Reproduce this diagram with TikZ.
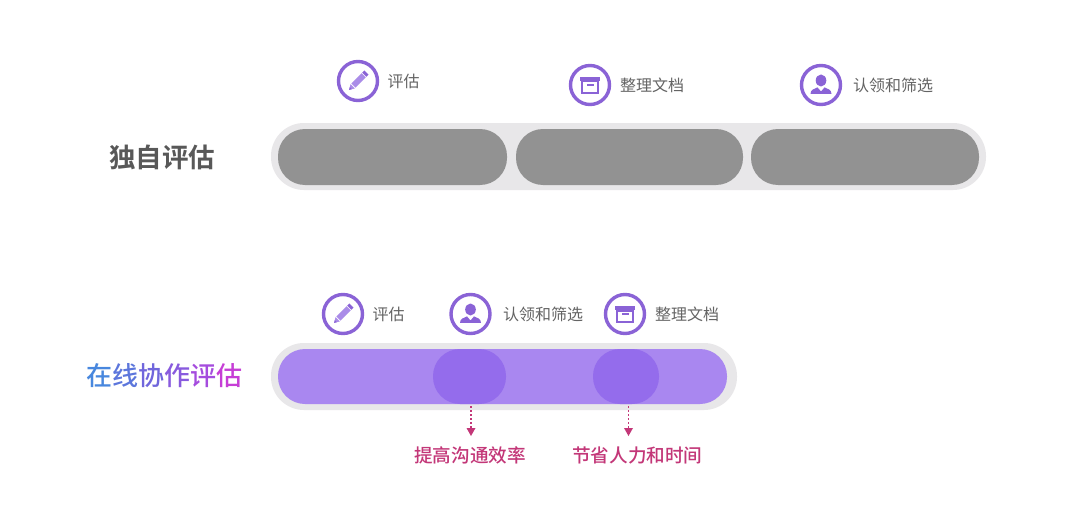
\documentclass[tikz,border=0pt]{standalone}
\usepackage{fontspec}
\setmainfont{Noto Sans CJK SC}
\newfontfamily\cjkbold{Noto Sans CJK SC Bold}
\newfontfamily\cjkmed{Noto Sans CJK SC Medium}
\definecolor{ringc}{RGB}{138,99,214}
\definecolor{iconlight}{RGB}{170,140,232}
\definecolor{trackc}{RGB}{232,231,233}
\definecolor{grayp}{RGB}{146,146,146}
\definecolor{purp}{RGB}{169,135,240}
\definecolor{purd}{RGB}{148,108,236}
\definecolor{labelc}{RGB}{100,100,100}
\definecolor{titlec}{RGB}{88,88,88}
\definecolor{redc}{RGB}{195,55,120}
\definecolor{gA}{RGB}{72,135,222}
\definecolor{gB}{RGB}{92,118,220}
\definecolor{gC}{RGB}{112,102,220}
\definecolor{gD}{RGB}{136,90,222}
\definecolor{gE}{RGB}{165,76,222}
\definecolor{gF}{RGB}{198,62,214}
\tikzset{
  x=1pt,y=-1pt,
  ring/.style={circle,draw=ringc,line width=3.4pt,fill=white,minimum size=39pt,inner sep=0pt},
  lbl/.style={font=\fontsize{16}{18}\selectfont,text=labelc,inner sep=0pt},
  ttl/.style={font=\cjkbold\fontsize{26.5}{30}\selectfont,text=titlec,inner sep=0pt},
  ttlg/.style={font=\cjkmed\fontsize{26}{30}\selectfont,inner sep=0pt},
  benefit/.style={font=\cjkmed\fontsize{18.6}{22}\selectfont,text=redc,inner sep=0pt},
  track/.style={draw=none,fill=trackc,rounded corners=33pt},
  pillg/.style={draw=none,fill=grayp,rounded corners=27pt},
  pillp/.style={draw=none,fill=purp,rounded corners=27pt},
  pilld/.style={draw=none,fill=purd,rounded corners=27pt},
  conn/.style={draw=redc,line width=1.6pt,dash pattern=on 2pt off 2pt},
  tip/.style={fill=redc,draw=none},
  pencilicon/.pic={
    \begin{scope}[rotate=45]
      \fill[iconlight] (-6.5,-3) rectangle (8,3);
      \fill[ringc] (9,-3) rectangle (12,3);
      \fill[iconlight] (-7.5,-3) -- (-12.5,0) -- (-7.5,3) -- cycle;
      \fill[ringc] (-10.2,-1.4) -- (-12.5,0) -- (-10.2,1.4) -- cycle;
    \end{scope}
  },
  boxicon/.pic={
    \fill[ringc] (-10,-8) rectangle (10,-4);
    \draw[ringc,line width=2pt] (-8,-3.5) rectangle (8,8);
    \fill[ringc] (-3.5,-0.8) rectangle (3.5,1);
  },
  personicon/.pic={
    \fill[ringc] (0,-4.5) ellipse (5.3pt and 6pt);
    \fill[ringc] (-10.5,8.8) .. controls (-10.5,4.5) and (-6.5,3.8) .. (-3.5,2.4) -- (0,6.5) -- (3.5,2.4) .. controls (6.5,3.8) and (10.5,4.5) .. (10.5,8.8) -- cycle;
  }
}
\begin{document}
\begin{tikzpicture}
\useasboundingbox (0,0) rectangle (1080,519);
\fill[white] (0,0) rectangle (1080,519);
% top track
\fill[track] (271,123) rectangle (986,190);
\fill[pillg] (278,129) rectangle (507,185);
\fill[pillg] (516,129) rectangle (743,185);
\fill[pillg] (751,129) rectangle (979,185);
% bottom track
\fill[track] (271,343) rectangle (737,410);
\fill[pillp] (278,349) rectangle (727,404);
\fill[pilld] (433,349) rectangle (506,404);
\fill[pilld] (593,349) rectangle (659,404);
\coordinate (fa) at (471,406);
\coordinate (fb) at (628.5,406);
% icons
\node[ring] (i1) at (358,81) {};
\pic at (i1.center) {pencilicon};
\node[ring] (i2) at (590,85) {};
\pic at (i2.center) {boxicon};
\node[ring] (i3) at (821,85) {};
\pic at (i3.center) {personicon};
\node[ring] (j1) at (343,314) {};
\pic at (j1.center) {pencilicon};
\node[ring] (j2) at (470.5,314) {};
\pic at (j2.center) {personicon};
\node[ring] (j3) at (625,314) {};
\pic at (j3.center) {boxicon};
% labels
\node[lbl,anchor=west] (l1) at (387.5,81) {评估};
\node[lbl,anchor=west] (l2) at (620,85) {整理文档};
\node[lbl,anchor=west] (l3) at (853,85) {认领和筛选};
\node[lbl,anchor=west] (m1) at (372.5,314) {评估};
\node[lbl,anchor=west] (m2) at (503,314) {认领和筛选};
\node[lbl,anchor=west] (m3) at (655,314) {整理文档};
% titles
\node[ttl,anchor=west] (t1) at (109,157) {独自评估};
\node[ttlg,anchor=west] (t2) at (86,376) {\textcolor{gA}{在}\textcolor{gB}{线}\textcolor{gC}{协}\textcolor{gD}{作}\textcolor{gE}{评}\textcolor{gF}{估}};
% benefits
\node[benefit,anchor=west] (b1) at (414,455) {提高沟通效率};
\node[benefit,anchor=west] (b2) at (572,455) {节省人力和时间};
% connectors
\coordinate (ea) at (471,429);
\coordinate (eb) at (628.5,429);
\draw[conn] (fa) -- (ea);
\draw[conn] (fb) -- (eb);
\fill[tip] (466.5,428) -- (475.5,428) -- (471,436) -- cycle;
\fill[tip] (624,428) -- (633,428) -- (628.5,436) -- cycle;
\end{tikzpicture}
\end{document}
